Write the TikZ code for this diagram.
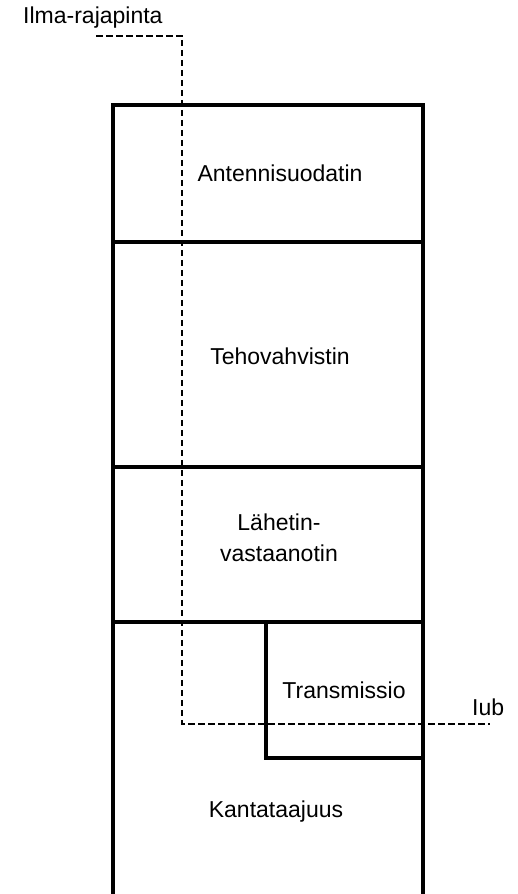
\documentclass[tikz,border=0pt]{standalone}
\usepackage{fontspec}
\setmainfont{Liberation Sans}
\begin{document}
\begin{tikzpicture}[x=1pt,y=1pt,
  block/.style={line width=3.6pt},
  label/.style={font=\fontsize{23}{31}\selectfont, align=center, inner sep=0pt},
  iface/.style={line width=1.8pt, dash pattern=on 6.5pt off 3.5pt}]
  \useasboundingbox (0,0) rectangle (517,894);
  \begin{scope}
    \clip (0,0) rectangle (517,894);
    % unit stack, open at the bottom
    \draw[block] (113,-10) -- (113,789) -- (423,789) -- (423,-10);
    \draw[block] (113,652) -- (423,652);
    \draw[block] (113,427) -- (423,427);
    \draw[block] (113,272) -- (423,272);
    % transmission block inside the baseband unit
    \draw[block] (266,272) -- (266,136) -- (423,136);
  \end{scope}
  % block labels
  \node[label] (ant) at (280,721) {Antennisuodatin};
  \node[label] (pa) at (280,538) {Tehovahvistin};
  \node[label] (trx) at (279,356) {L\"ahetin-\\vastaanotin};
  \node[label] (tr) at (344,204) {Transmissio};
  \node[label] (bb) at (276,82) {Kantataajuus};
  % interface labels and the dashed interface line
  \node[label, anchor=west] (air) at (23,876) {Ilma-rajapinta};
  \node[label, anchor=west] (iub) at (472,187) {Iub};
  \coordinate (d0) at (96,858);
  \coordinate (d1) at (182,858);
  \coordinate (d2) at (182,170);
  \coordinate (d3) at (490,170);
  \draw[iface] (d0) -- (d1) -- (d2) -- (d3);
\end{tikzpicture}
\end{document}
